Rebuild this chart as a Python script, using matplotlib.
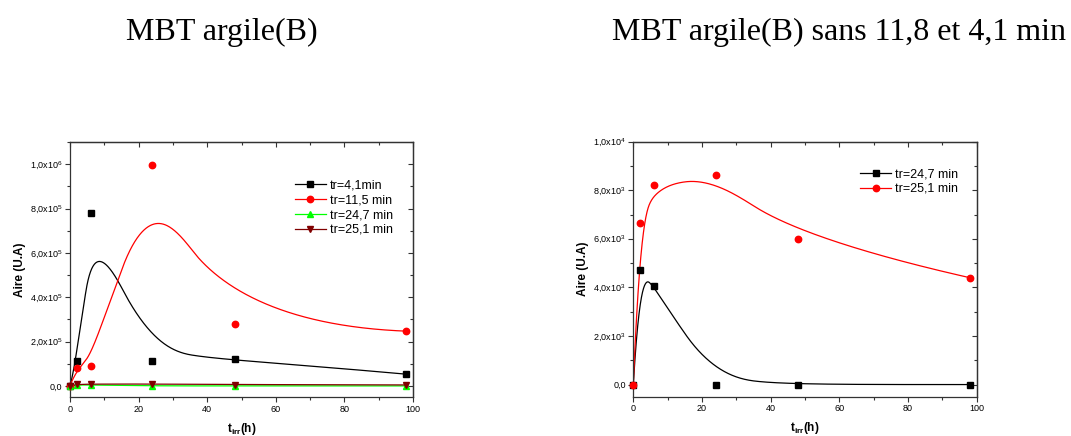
import numpy as np
import matplotlib
matplotlib.use('Agg')
import matplotlib.pyplot as plt
from matplotlib.ticker import MultipleLocator, FuncFormatter

plt.rcParams['font.family'] = ['Liberation Sans', 'DejaVu Sans']
plt.rcParams['mathtext.fontset'] = 'custom'
plt.rcParams['mathtext.rm'] = 'Liberation Sans'
plt.rcParams['mathtext.it'] = 'Liberation Sans'
plt.rcParams['mathtext.bf'] = 'Liberation Sans:bold'
plt.rcParams['mathtext.default'] = 'regular'

# ---------------- data ----------------
t_irr = [0, 2, 6, 24, 48, 98]
aire_41 = [0, 1.11e5, 7.80e5, 1.11e5, 1.22e5, 0.53e5]
aire_115 = [0, 0.81e5, 0.92e5, 9.98e5, 2.77e5, 2.47e5]
aire_247 = [0, 4710, 4070, 0, 0, 0]
aire_251 = [0, 6660, 8200, 8630, 6000, 4400]

labels_left = ['tr=4,1min', 'tr=11,5 min', 'tr=24,7 min', 'tr=25,1 min']
labels_right = ['tr=24,7 min', 'tr=25,1 min']
title_left = 'MBT argile(B)'
title_right = 'MBT argile(B) sans 11,8 et 4,1 min'


def basis(m, k, u):
    knots = np.concatenate([np.zeros(k), np.linspace(0, 1, m - k + 1), np.ones(k)])
    n = len(u)
    N = np.zeros((n, len(knots) - 1))
    for i in range(len(knots) - 1):
        N[:, i] = (u >= knots[i]) & (u < knots[i + 1])
    for d in range(1, k + 1):
        Nn = np.zeros((n, len(knots) - 1 - d))
        for i in range(len(knots) - 1 - d):
            a = knots[i + d] - knots[i]
            b = knots[i + d + 1] - knots[i + 1]
            t1 = (u - knots[i]) / a * N[:, i] if a > 0 else 0
            t2 = (knots[i + d + 1] - u) / b * N[:, i + 1] if b > 0 else 0
            Nn[:, i] = t1 + t2
        N = Nn
    return N


def bspline(px, py, n=600):
    """Smooth B-spline style connection (data points as control points)."""
    px = np.asarray(px, float)
    py = np.asarray(py, float)
    u = np.linspace(0, 1, n)
    u[-1] = 1 - 1e-12
    N = 0.5 * basis(len(px), 2, u) + 0.5 * basis(len(px), 3, u)
    return N @ px, N @ py


def sci_fmt(v, pos):
    if abs(v) < 1e-9:
        return '0,0'
    e = int(np.floor(np.log10(abs(v)) + 1e-9))
    mant = v / 10 ** e
    return ('%.1f' % mant).replace('.', ',') + 'x10$^{%d}$' % e


W, H = 1071, 436
fig = plt.figure(figsize=(W / 100, H / 100), dpi=100)


def px_axes(x0, x1, y0, y1):
    return fig.add_axes([x0 / W, 1 - y1 / H, (x1 - x0) / W, (y1 - y0) / H])


axL = px_axes(70, 413, 142, 397)
axR = px_axes(633.3, 976.7, 141.7, 396.7)


def style(ax, ymaj, ymin, ylim):
    ax.set_xlim(0, 100)
    ax.set_ylim(*ylim)
    ax.xaxis.set_major_locator(MultipleLocator(20))
    ax.xaxis.set_minor_locator(MultipleLocator(10))
    ax.yaxis.set_major_locator(MultipleLocator(ymaj))
    ax.yaxis.set_minor_locator(MultipleLocator(ymin))
    ax.yaxis.set_major_formatter(FuncFormatter(sci_fmt))
    ax.tick_params(which='major', direction='out', length=3.5, width=0.8,
                   labelsize=6.5, pad=2, color='#333333')
    ax.tick_params(which='minor', direction='out', length=2, width=0.8, color='#333333')
    for s in ax.spines.values():
        s.set_linewidth(0.9)
        s.set_color('#333333')
    sx = ax.secondary_xaxis('top')
    sx.xaxis.set_major_locator(MultipleLocator(20))
    sx.xaxis.set_minor_locator(MultipleLocator(10))
    sx.tick_params(which='both', direction='in', labeltop=False, width=0.8, color='#333333')
    sx.tick_params(which='major', length=3.5)
    sx.tick_params(which='minor', length=2)
    sx.spines['top'].set_linewidth(0.9)
    sx.spines['top'].set_color('#333333')
    sy = ax.secondary_yaxis('right')
    sy.yaxis.set_major_locator(MultipleLocator(ymaj))
    sy.yaxis.set_minor_locator(MultipleLocator(ymin))
    sy.tick_params(which='both', direction='in', labelright=False, width=0.8, color='#333333')
    sy.tick_params(which='major', length=3.5)
    sy.tick_params(which='minor', length=2)
    sy.spines['right'].set_linewidth(0.9)
    sy.spines['right'].set_color('#333333')
    ax.set_ylabel('Aire (U.A)', fontsize=8.5, fontweight='bold', labelpad=3)
    ax.set_xlabel(r't$_{\mathbf{irr}}$(h)', fontsize=8.5, fontweight='bold', labelpad=5)


style(axL, 2e5, 1e5, (-0.05e6, 1.1e6))
style(axR, 2000, 1000, (-500, 10000))

leg_kw = dict(loc='upper left', frameon=False, fontsize=9, handlelength=2.5,
              handletextpad=0.3, labelspacing=0.22, borderpad=0, borderaxespad=0)

# left plot
series_L = [(aire_41, 'black', 's', 4.2),
            (aire_115, '#ff0000', 'o', 4.6),
            (aire_247, '#00ff00', '^', 4.6),
            (aire_251, '#800000', 'v', 4.6)]
handles = []
for (yv, c, m, ms), lab in zip(series_L, labels_left):
    bx, by = bspline(t_irr, yv)
    axL.plot(bx, by, color=c, lw=0.9, zorder=2)
    axL.plot(t_irr, yv, ls='none', marker=m, color=c, ms=ms, zorder=3, clip_on=False)
    h, = axL.plot([], [], color=c, lw=0.9, marker=m, ms=ms, label=lab)
    handles.append(h)
axL.legend(handles=handles, bbox_to_anchor=(0.655, 0.852), **leg_kw)

# right plot
series_R = [(aire_247, 'black', 's', 4.2),
            (aire_251, '#ff0000', 'o', 4.6)]
handles = []
for (yv, c, m, ms), lab in zip(series_R, labels_right):
    bx, by = bspline(t_irr, yv)
    axR.plot(bx, by, color=c, lw=0.9, zorder=2)
    axR.plot(t_irr, yv, ls='none', marker=m, color=c, ms=ms, zorder=3, clip_on=False)
    h, = axR.plot([], [], color=c, lw=0.9, marker=m, ms=ms, label=lab)
    handles.append(h)
axR.legend(handles=handles, bbox_to_anchor=(0.66, 0.896), **leg_kw)

fig.text(222 / W, 1 - 40 / H, title_left, ha='center', va='baseline',
         fontsize=23, family='Liberation Serif')
fig.text(838.5 / W, 1 - 40 / H, title_right, ha='center', va='baseline',
         fontsize=23, family='Liberation Serif')

fig.savefig('out.png', dpi=100)
